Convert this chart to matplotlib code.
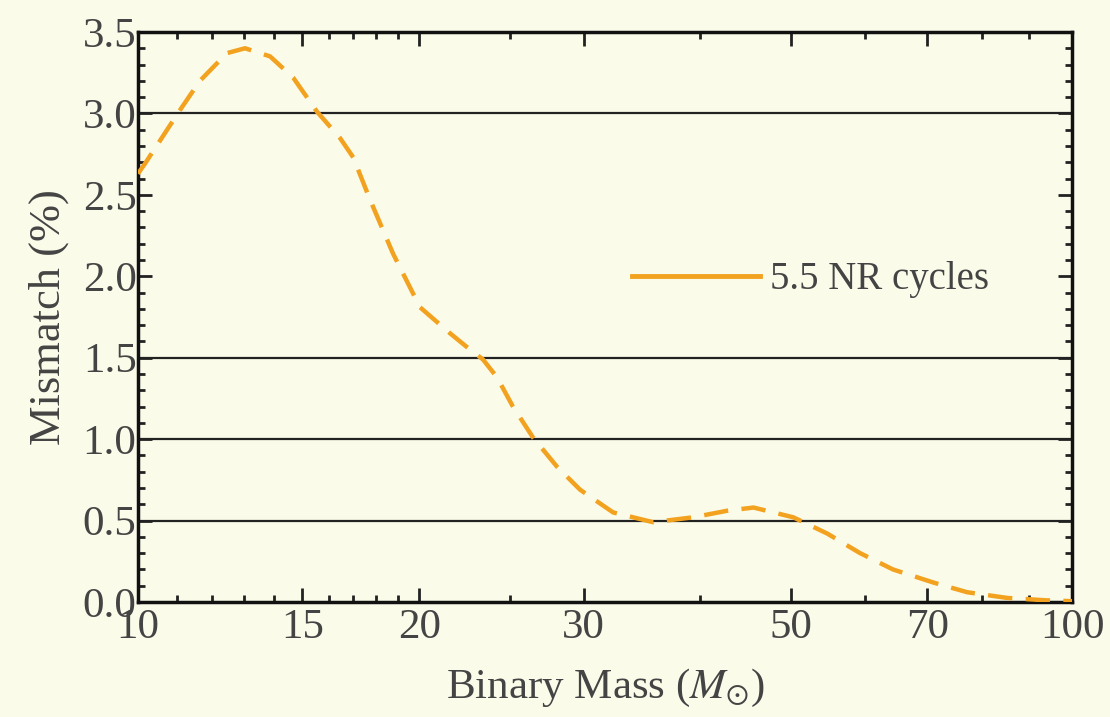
import numpy as np
import matplotlib
matplotlib.use("Agg")
import matplotlib.pyplot as plt
from matplotlib.ticker import FixedLocator, MultipleLocator, NullFormatter

# values
mass = [10.0, 10.17, 11.09, 11.65, 12.45, 13.02, 13.85, 14.66, 15.55, 16.45, 17.0,
        17.72, 18.75, 20.04, 21.58, 22.67, 23.4, 24.23, 25.2, 26.48, 28.1, 29.73,
        32.26, 35.6, 39.3, 42.7, 45.6, 50.3, 54.7, 59.3, 64.3, 71.0, 77.2, 85.2,
        94.0, 100.0]
mismatch = [2.63, 2.69, 3.02, 3.20, 3.37, 3.40, 3.35, 3.22, 3.01, 2.85, 2.73,
            2.47, 2.14, 1.81, 1.65, 1.55, 1.49, 1.38, 1.20, 1.01, 0.83, 0.69,
            0.55, 0.49, 0.52, 0.56, 0.58, 0.52, 0.42, 0.30, 0.20, 0.12, 0.06, 0.025,
            0.01, 0.005]

x_major = [10, 15, 20, 30, 50, 70, 100]
x_minor = [11, 12, 13, 14, 16, 17, 18, 19, 25, 40, 60, 80, 90]
y_major = [0.0, 0.5, 1.0, 1.5, 2.0, 2.5, 3.0, 3.5]
grid_levels = [0.5, 1.0, 1.5, 3.0]
series_label = "5.5 NR cycles"

BG = "#FBFBEA"
ORANGE = "#F2A21E"
TEXT = "#444444"

plt.rcParams["font.family"] = ["Liberation Serif", "DejaVu Serif"]
plt.rcParams["mathtext.fontset"] = "stix"

fig = plt.figure(figsize=(11.1, 7.17), dpi=100, facecolor=BG)
ax = fig.add_axes([0.1243, 0.1604, 0.8415, 0.795])
ax.set_facecolor(BG)

for lvl in grid_levels:
    ax.axhline(lvl, color="#222222", linewidth=1.6, zorder=1)

ax.plot(mass, mismatch, color=ORANGE, linewidth=3.2, dashes=(5.5, 3),
        label=series_label, zorder=3)

ax.set_xscale("log")
ax.set_xlim(10, 100)
ax.set_ylim(0, 3.5)

ax.xaxis.set_major_locator(FixedLocator(x_major))
ax.xaxis.set_minor_locator(FixedLocator(x_minor))
ax.set_xticklabels([str(v) for v in x_major])
ax.xaxis.set_minor_formatter(NullFormatter())
ax.yaxis.set_major_locator(FixedLocator(y_major))
ax.yaxis.set_minor_locator(MultipleLocator(0.1))
ax.set_yticklabels([f"{v:.1f}" for v in y_major])

ax.tick_params(which="both", direction="in", top=True, right=True,
               colors="#222222", labelcolor=TEXT, labelsize=31, width=2)
ax.tick_params(which="major", length=10)
ax.tick_params(axis="y", which="major", pad=1)
ax.tick_params(axis="x", which="major", pad=5)
ax.tick_params(which="minor", length=5)
for s in ax.spines.values():
    s.set_linewidth(2.5)
    s.set_color("#111111")

ax.set_xlabel(r"Binary Mass ($M_{\odot}$)", fontsize=31, color=TEXT, labelpad=14)
ax.set_ylabel("Mismatch (%)", fontsize=32, color=TEXT, labelpad=10)

# legend drawn as a solid sample line
leg = ax.legend(handles=[plt.Line2D([], [], color=ORANGE, linewidth=3.5)],
                labels=[series_label], loc="center left",
                bbox_to_anchor=(0.512, 0.565), frameon=False, fontsize=28,
                handlelength=3.3, handletextpad=0.25, borderaxespad=0)
for t in leg.get_texts():
    t.set_color(TEXT)

fig.savefig("out.png", dpi=100, facecolor=BG)
